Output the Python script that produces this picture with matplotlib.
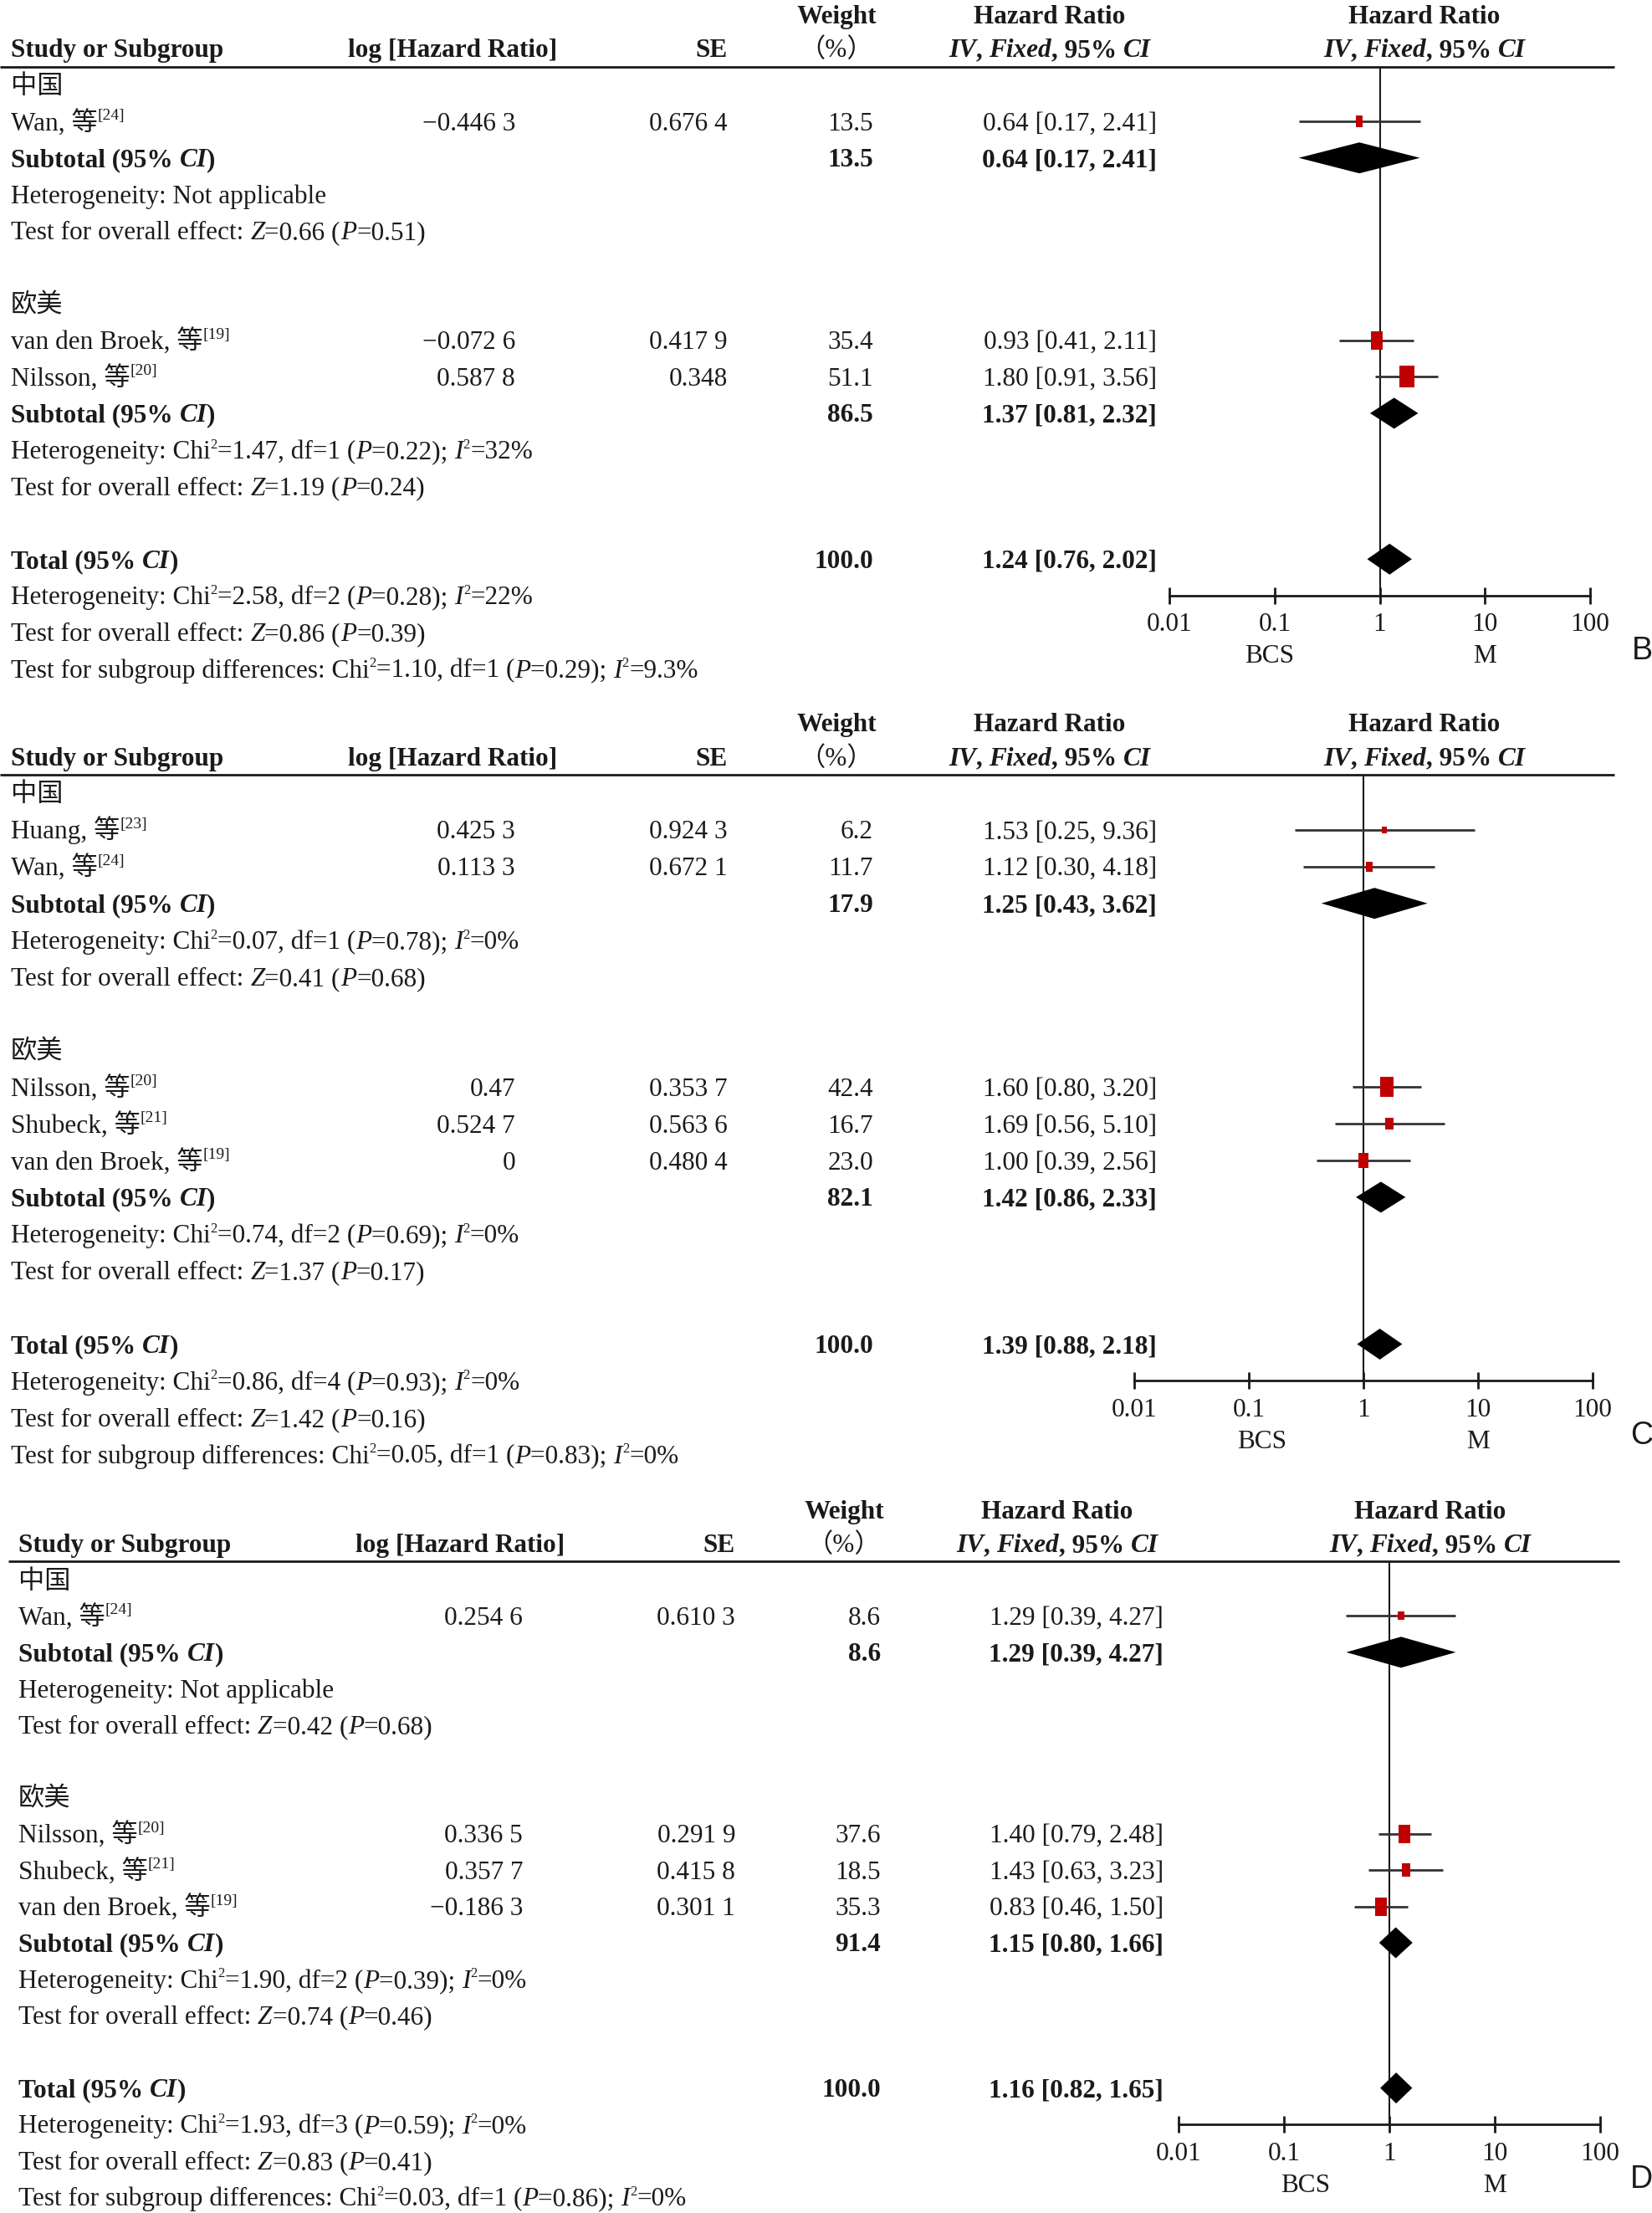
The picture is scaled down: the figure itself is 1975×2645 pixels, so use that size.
import re
import matplotlib
matplotlib.use('Agg')
import matplotlib.pyplot as plt
import numpy as np
from matplotlib.font_manager import FontProperties
from matplotlib.path import Path
from matplotlib.transforms import ScaledTranslation
from matplotlib.ticker import NullLocator

W, H = 1975, 2645
SERIF = ['Liberation Serif', 'Noto Sans CJK SC']
FS = 22.5
SUP_FS = 12
REF_FS = 14
INK = '#1a1a1a'
RED = '#c00000'

groups = ['中国', '欧美']
ticks = [0.01, 0.1, 1, 10, 100]
tick_labels = ['0.01', '0.1', '1', '10', '100']
favours = ['BCS', 'M']

# ---- panel B
b_names = ['Wan, 等', 'van den Broek, 等', 'Nilsson, 等']
b_refs = ['24', '19', '20']
b_group = [0, 1, 1]
b_loghr = [-0.4463, -0.0726, 0.5878]
b_se = [0.6764, 0.4179, 0.348]
b_weight = [13.5, 35.4, 51.1]
b_hr = [0.64, 0.93, 1.80]
b_lo = [0.17, 0.41, 0.91]
b_hi = [2.41, 2.11, 3.56]
b_sub_weight = [13.5, 86.5]
b_sub_hr = [0.64, 1.37]
b_sub_lo = [0.17, 0.81]
b_sub_hi = [2.41, 2.32]
b_total = [100.0, 1.24, 0.76, 2.02]
b_het = ['Heterogeneity: Not applicable',
         'Heterogeneity: Chi^2=1.47, df=1 (*P*=0.22); *I*^2=32%']
b_test = ['Test for overall effect: *Z*=0.66 (*P*=0.51)',
          'Test for overall effect: *Z*=1.19 (*P*=0.24)']
b_overall = ['Heterogeneity: Chi^2=2.58, df=2 (*P*=0.28); *I*^2=22%',
             'Test for overall effect: *Z*=0.86 (*P*=0.39)',
             'Test for subgroup differences: Chi^2=1.10, df=1 (*P*=0.29); *I*^2=9.3%']

# ---- panel C
c_names = ['Huang, 等', 'Wan, 等', 'Nilsson, 等', 'Shubeck, 等', 'van den Broek, 等']
c_refs = ['23', '24', '20', '21', '19']
c_group = [0, 0, 1, 1, 1]
c_loghr = [0.4253, 0.1133, 0.47, 0.5247, 0.0]
c_se = [0.9243, 0.6721, 0.3537, 0.5636, 0.4804]
c_weight = [6.2, 11.7, 42.4, 16.7, 23.0]
c_hr = [1.53, 1.12, 1.60, 1.69, 1.00]
c_lo = [0.25, 0.30, 0.80, 0.56, 0.39]
c_hi = [9.36, 4.18, 3.20, 5.10, 2.56]
c_sub_weight = [17.9, 82.1]
c_sub_hr = [1.25, 1.42]
c_sub_lo = [0.43, 0.86]
c_sub_hi = [3.62, 2.33]
c_total = [100.0, 1.39, 0.88, 2.18]
c_het = ['Heterogeneity: Chi^2=0.07, df=1 (*P*=0.78); *I*^2=0%',
         'Heterogeneity: Chi^2=0.74, df=2 (*P*=0.69); *I*^2=0%']
c_test = ['Test for overall effect: *Z*=0.41 (*P*=0.68)',
          'Test for overall effect: *Z*=1.37 (*P*=0.17)']
c_overall = ['Heterogeneity: Chi^2=0.86, df=4 (*P*=0.93); *I*^2=0%',
             'Test for overall effect: *Z*=1.42 (*P*=0.16)',
             'Test for subgroup differences: Chi^2=0.05, df=1 (*P*=0.83); *I*^2=0%']

# ---- panel D
d_names = ['Wan, 等', 'Nilsson, 等', 'Shubeck, 等', 'van den Broek, 等']
d_refs = ['24', '20', '21', '19']
d_group = [0, 1, 1, 1]
d_loghr = [0.2546, 0.3365, 0.3577, -0.1863]
d_se = [0.6103, 0.2919, 0.4158, 0.3011]
d_weight = [8.6, 37.6, 18.5, 35.3]
d_hr = [1.29, 1.40, 1.43, 0.83]
d_lo = [0.39, 0.79, 0.63, 0.46]
d_hi = [4.27, 2.48, 3.23, 1.50]
d_sub_weight = [8.6, 91.4]
d_sub_hr = [1.29, 1.15]
d_sub_lo = [0.39, 0.80]
d_sub_hi = [4.27, 1.66]
d_total = [100.0, 1.16, 0.82, 1.65]
d_het = ['Heterogeneity: Not applicable',
         'Heterogeneity: Chi^2=1.90, df=2 (*P*=0.39); *I*^2=0%']
d_test = ['Test for overall effect: *Z*=0.42 (*P*=0.68)',
          'Test for overall effect: *Z*=0.74 (*P*=0.46)']
d_overall = ['Heterogeneity: Chi^2=1.93, df=3 (*P*=0.59); *I*^2=0%',
             'Test for overall effect: *Z*=0.83 (*P*=0.41)',
             'Test for subgroup differences: Chi^2=0.03, df=1 (*P*=0.86); *I*^2=0%']

# layout of each panel (pixels of the output image)
cols_bc = dict(name=13, lhr=616, lhr_h=541, se=870, w=1044, w_h=1000,
               hr=1383, hr_h=1255, f_h=1703, line=(0, 1930))
cols_d = dict(name=22, lhr=625, lhr_h=550, se=879, w=1053, w_h=1009,
              hr=1391, hr_h=1264, f_h=1710, line=(10, 1936))
lay_b = dict(y0=101.5, dy=43.6, cols=cols_bc, f=(1398, 1901), bcs=0.09)
lay_c = dict(y0=948, dy=43.9, cols=cols_bc, f=(1356, 1904), bcs=0.13)
lay_d = dict(y0=1888, dy=43.4, cols=cols_d, f=(1409, 1913), bcs=0.16)

fig = plt.figure(figsize=(W / 100, H / 100), dpi=100)
renderer = fig.canvas.get_renderer()
BASE = ScaledTranslation(0, -0.105, fig.dpi_scale_trans)
SUPS = ScaledTranslation(0, 0.02, fig.dpi_scale_trans)

RECT = Path([(-0.68, -1), (0.68, -1), (0.68, 1), (-0.68, 1), (-0.68, -1)], closed=True)


def fp(style='n', size=FS):
    return FontProperties(family=SERIF, size=size,
                          weight='bold' if 'b' in style else 'normal',
                          style='italic' if 'i' in style else 'normal')


def adv(s, prop):
    w1 = renderer.get_text_width_height_descent('|' + s + '|', prop, ismath=False)[0]
    w0 = renderer.get_text_width_height_descent('||', prop, ismath=False)[0]
    return w1 - w0


def parse(s, base='n'):
    parts = []
    for tok in re.split(r'(\*[^*]+\*|\^[^ =]+)', s):
        if not tok:
            continue
        if tok.startswith('*'):
            parts.append((tok[1:-1], base + 'i', False))
        elif tok.startswith('^'):
            parts.append((tok[1:], base, True))
        else:
            parts.append((tok, base, False))
    return parts


def rich(ax, x, row, parts, ha='left', sup_size=SUP_FS):
    props = [fp(st, sup_size if sup else FS) for _, st, sup in parts]
    widths = [adv(t, p) for (t, _, _), p in zip(parts, props)]
    total = sum(widths)
    if ha == 'right':
        x -= total
    elif ha == 'center':
        x -= total / 2
    for (t, st, sup), p, w in zip(parts, props, widths):
        ax.text(x, row, t, fontproperties=p, color=INK, ha='left', va='baseline',
                transform=ax.transData + (SUPS if sup else BASE))
        x += w


def fmt_coef(v):
    if v == 0:
        return '0'
    s = f'{abs(v):.4f}'.rstrip('0').rstrip('.')
    ip, dp = s.split('.')
    if len(dp) > 3:
        dp = dp[:3] + ' ' + dp[3:]
    return ('−' if v < 0 else '') + ip + '.' + dp


def fmt_ci(h, l, u):
    return f'{h:.2f} [{l:.2f}, {u:.2f}]'


def draw_panel(letter, names, refs, grp, loghr, se, wt, hr, lo, hi,
               sub_w, sub_hr, sub_lo, sub_hi, tot, het, tests, overall, lay):
    y0, dy, c = lay['y0'], lay['dy'], lay['cols']
    items = []
    r = 0
    for g in range(2):
        items.append(('group', g, r)); r += 1
        for i in [k for k in range(len(names)) if grp[k] == g]:
            items.append(('study', i, r)); r += 1
        items.append(('sub', g, r)); r += 1
        items.append(('line', het[g], r)); r += 1
        items.append(('line', tests[g], r)); r += 1
        r += 1
    total_row = r
    items.append(('total', None, r)); r += 1
    for s in overall:
        items.append(('line', s, r)); r += 1
    last = r - 1
    axis_row = total_row + 1.0

    # table axes: x in pixels, y in rows
    r_top, r_bot = -2.6, last + 0.8
    top_px, bot_px = y0 + r_top * dy, y0 + r_bot * dy
    tax = fig.add_axes([0, 1 - bot_px / H, 1, (bot_px - top_px) / H])
    tax.set_xlim(0, W)
    tax.set_ylim(r_bot, r_top)
    tax.axis('off')

    # header
    rich(tax, c['w_h'], -1.93, [('Weight', 'b', False)], ha='center')
    rich(tax, c['hr_h'], -1.93, [('Hazard Ratio', 'b', False)], ha='center')
    rich(tax, c['f_h'], -1.93, [('Hazard Ratio', 'b', False)], ha='center')
    rich(tax, c['name'], -1.0, [('Study or Subgroup', 'b', False)])
    rich(tax, c['lhr_h'], -1.0, [('log [Hazard Ratio]', 'b', False)], ha='center')
    rich(tax, c['se'], -1.0, [('SE', 'b', False)], ha='right')
    rich(tax, c['w_h'], -1.0, [('（%）', 'n', False)], ha='center')
    rich(tax, c['hr_h'], -1.0, parse('*IV*, *Fixed*, 95% *CI*', 'b'), ha='center')
    rich(tax, c['f_h'], -1.0, parse('*IV*, *Fixed*, 95% *CI*', 'b'), ha='center')
    tax.plot(c['line'], [-0.5, -0.5], color=INK, lw=2, solid_capstyle='butt')

    # forest axes
    f0, f1 = lay['f']
    ftop, fbot = y0 - 0.5 * dy, y0 + axis_row * dy
    fax = fig.add_axes([f0 / W, 1 - fbot / H, (f1 - f0) / W, (fbot - ftop) / H])
    fax.set_xscale('log')
    fax.set_xlim(0.01, 100)
    fax.set_ylim(axis_row, -0.5)
    fax.patch.set_visible(False)
    for s in ['top', 'left', 'right']:
        fax.spines[s].set_visible(False)
    fax.spines['bottom'].set_linewidth(2)
    fax.spines['bottom'].set_color(INK)
    fax.set_yticks([])
    fax.set_xticks(ticks)
    fax.xaxis.set_minor_locator(NullLocator())
    fax.tick_params(axis='x', direction='inout', length=15, width=2, color=INK,
                    labelbottom=False)
    fax.axvline(1, color=INK, lw=1.5, zorder=1)
    for v, lab in zip(ticks, tick_labels):
        fax.annotate(lab, xy=(v, 0), xycoords=('data', 'axes fraction'),
                     xytext=(0, -42.5 * 0.72), textcoords='offset points',
                     ha='center', va='baseline', fontproperties=fp(), color=INK)
    for v, lab in zip([lay['bcs'], 10], favours):
        fax.annotate(lab, xy=(v, 0), xycoords=('data', 'axes fraction'),
                     xytext=(0, -80.5 * 0.72), textcoords='offset points',
                     ha='center', va='baseline', fontproperties=fp(), color=INK)
    fax.annotate(letter, xy=(W + 1, 0), xycoords=('figure pixels', 'axes fraction'),
                 xytext=(0, -76 * 0.72), textcoords='offset points',
                 ha='right', va='baseline', fontsize=27,
                 family=['Liberation Sans', 'DejaVu Sans'], color=INK)

    hh = 18.5 / dy
    for kind, k, row in items:
        if kind == 'group':
            rich(tax, c['name'], row, [(groups[k], 'n', False)])
        elif kind == 'study':
            rich(tax, c['name'], row, [(names[k], 'n', False), ('[' + refs[k] + ']', 'n', True)],
                 sup_size=REF_FS)
            rich(tax, c['lhr'], row, [(fmt_coef(loghr[k]), 'n', False)], ha='right')
            rich(tax, c['se'], row, [(fmt_coef(se[k]), 'n', False)], ha='right')
            rich(tax, c['w'], row, [(f'{wt[k]:.1f}', 'n', False)], ha='right')
            rich(tax, c['hr'], row, [(fmt_ci(hr[k], lo[k], hi[k]), 'n', False)], ha='right')
            fax.plot([lo[k], hi[k]], [row, row], color='#333333', lw=2,
                     solid_capstyle='butt', zorder=2)
            fax.plot([hr[k]], [row], ls='none', marker=RECT, color=RED, mew=0,
                     ms=3.55 * np.sqrt(wt[k]) * 0.72, zorder=3)
        elif kind in ('sub', 'total'):
            if kind == 'sub':
                w_, h_, l_, u_ = sub_w[k], sub_hr[k], sub_lo[k], sub_hi[k]
                lab = 'Subtotal (95% *CI*)'
            else:
                w_, h_, l_, u_ = tot
                lab = 'Total (95% *CI*)'
            rich(tax, c['name'], row, parse(lab, 'b'))
            rich(tax, c['w'], row, [(f'{w_:.1f}', 'b', False)], ha='right')
            rich(tax, c['hr'], row, [(fmt_ci(h_, l_, u_), 'b', False)], ha='right')
            fax.fill([l_, h_, u_, h_], [row, row - hh, row, row + hh],
                     color='black', lw=0, zorder=3)
        else:
            rich(tax, c['name'], row, parse(k))


draw_panel('B', b_names, b_refs, b_group, b_loghr, b_se, b_weight, b_hr, b_lo, b_hi,
           b_sub_weight, b_sub_hr, b_sub_lo, b_sub_hi, b_total, b_het, b_test, b_overall, lay_b)
draw_panel('C', c_names, c_refs, c_group, c_loghr, c_se, c_weight, c_hr, c_lo, c_hi,
           c_sub_weight, c_sub_hr, c_sub_lo, c_sub_hi, c_total, c_het, c_test, c_overall, lay_c)
draw_panel('D', d_names, d_refs, d_group, d_loghr, d_se, d_weight, d_hr, d_lo, d_hi,
           d_sub_weight, d_sub_hr, d_sub_lo, d_sub_hi, d_total, d_het, d_test, d_overall, lay_d)

fig.savefig('out.png', dpi=100, facecolor='white')
